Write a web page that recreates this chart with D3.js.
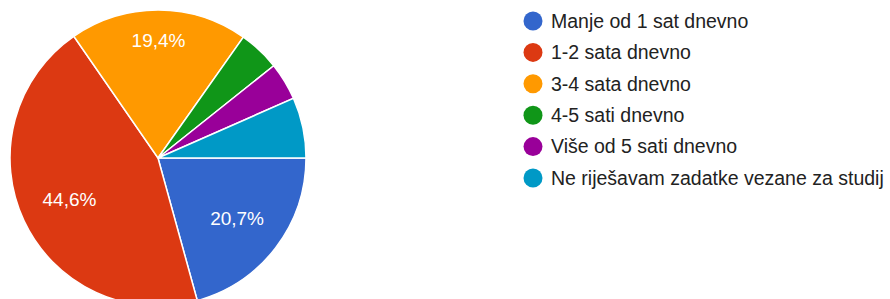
<!DOCTYPE html>
<html>
<head>
<meta charset="utf-8">
<script src="https://cdn.jsdelivr.net/npm/d3@7"></script>
<style>
  body { margin: 0; background: #fff; }
  svg { display: block; }
</style>
</head>
<body>
<script>
let categories = [
    "Manje od 1 sat dnevno",
    "1-2 sata dnevno",
    "3-4 sata dnevno",
    "4-5 sati dnevno",
    "Više od 5 sati dnevno",
    "Ne riješavam zadatke vezane za studij"
];
let values = [20.7, 44.6, 19.4, 4.5, 4.1, 6.6];
let colors = ["#3366cc", "#dc3912", "#ff9900", "#109618", "#990099", "#0099c6"];

let width = 890,
    height = 299,
    cx = 158, cy = 158, r = 148;

let data = categories.map((name, i) => ({name, value: values[i]}));

let pie = d3.pie()
    .sort(null)
    .value(d => d.value)
    .startAngle(Math.PI / 2)
    .endAngle(Math.PI / 2 + 2 * Math.PI);

let arc = d3.arc().innerRadius(0).outerRadius(r);

let color = d3.scaleOrdinal().domain(categories).range(colors);

const svg = d3.select("body").append("svg")
    .attr("width", width)
    .attr("height", height)
    .attr("viewBox", [0, 0, width, height]);

const arcs = pie(data);

const g = svg.append("g")
    .attr("transform", `translate(${cx},${cy})`);

g.selectAll("path")
  .data(arcs)
  .join("path")
    .attr("fill", d => color(d.data.name))
    .attr("stroke", "#fff")
    .attr("stroke-width", 1.5)
    .attr("d", arc);

// labels: keep the text box inside a circle of radius r*0.845
const labels = g.selectAll("text")
  .data(arcs.filter(d => d.data.value > 10))
  .join("text")
    .attr("text-anchor", "middle")
    .attr("dy", "0.35em")
    .attr("fill", "#fff")
    .attr("font-family", "Arial, 'Liberation Sans', sans-serif")
    .attr("font-size", 19)
    .text(d => d.data.value.toFixed(1).replace(".", ",") + "%");

labels.attr("transform", function(d) {
    const a = (d.startAngle + d.endAngle) / 2;
    const w = this.getComputedTextLength(), h = 14;
    const s = Math.sin(a), c = -Math.cos(a);
    const dist = r * 0.845 - (w / 2 * Math.abs(s) + h / 2 * Math.abs(c));
    return `translate(${dist * s},${dist * c})`;
});

// legend
let ly = d3.scaleLinear().domain([0, 5]).range([21, 178]);

const legend = svg.append("g")
  .selectAll("g")
  .data(categories)
  .join("g")
    .attr("transform", (d, i) => `translate(533,${ly(i)})`);

legend.append("circle")
    .attr("r", 9.5)
    .attr("fill", d => color(d));

legend.append("text")
    .attr("x", 18)
    .attr("dy", "0.35em")
    .attr("fill", "#222")
    .attr("font-family", "Arial, 'Liberation Sans', sans-serif")
    .attr("font-size", 19.5)
    .text(d => d);
</script>
</body>
</html>
